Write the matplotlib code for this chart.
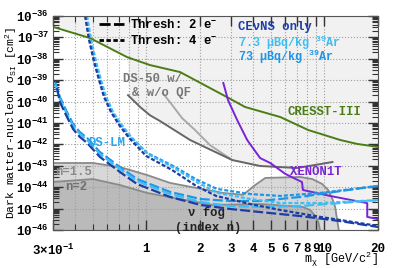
import matplotlib

matplotlib.use("Agg")
import matplotlib.pyplot as plt
from matplotlib.lines import Line2D
from matplotlib.ticker import FixedLocator, FixedFormatter, LogLocator, NullFormatter
import numpy as np

# ---- data: mass in GeV/c^2, cross section in cm^2 ----
cresst_m = [0.30, 0.484, 0.781, 1.05, 1.55, 2.85, 3.59, 5.66, 8.12, 12.3, 15.3, 20.0]
cresst_s = [3.1e-37, 9.3e-38, 1.2e-38, 5.1e-39, 2.4e-39, 1.6e-40, 5.6e-41, 1.9e-41,
            4.7e-42, 1.6e-42, 1.05e-42, 7.6e-43]

xenon_m = [2.71, 2.88, 3.24, 3.69, 4.36, 4.97, 6.03, 7.49, 7.58, 10.77, 17.4, 17.4, 20.0]
xenon_s = [7.4e-40, 1.17e-40, 1.38e-41, 1.6e-42, 2.3e-43, 1.35e-43, 4.2e-44, 1.74e-44,
           7.4e-45, 3.9e-45, 1.8e-45, 4.1e-46, 3.2e-46]

ds50_qf_m = [0.791, 0.924, 1.05, 1.197, 1.765, 3.04, 4.36, 7.03, 11.1]
ds50_qf_s = [2.0e-40, 5.6e-41, 2.3e-41, 1.23e-41, 1.6e-42, 1.86e-43, 9.8e-44, 7.9e-44, 1.5e-43]
ds50_noqf_m = [1.24, 1.40, 1.59, 1.88, 2.28, 3.04]
ds50_noqf_s = [2.5e-40, 6.9e-41, 1.7e-41, 4.7e-42, 9.3e-43, 1.86e-43]

# neutrino fog contours
fog15_m = [0.30, 0.503, 0.713, 1.012, 1.362, 1.932, 2.71, 3.50, 4.09, 4.66, 7.31, 8.55,
           9.73, 10.5, 11.1, 11.5, 11.8, 12.1]
fog15_s = [1.35e-43, 1.35e-43, 8.7e-44, 3.7e-44, 1.58e-44, 9.1e-45, 5.4e-45, 4.4e-45,
           1.26e-44, 2.7e-44, 3.0e-44, 2.4e-44, 1.41e-44, 7.4e-45, 2.8e-45, 1.19e-45,
           2.9e-46, 8.1e-47]
fog2_m = [0.30, 0.503, 0.713, 1.012, 1.417, 2.37, 4.36, 7.58, 8.33, 8.89, 9.25, 9.49]
fog2_s = [1.76e-44, 2.4e-44, 1.26e-44, 5.4e-45, 3.2e-45, 1.48e-45, 1.64e-45, 1.19e-45,
          8.6e-46, 4.5e-46, 2.4e-46, 8.1e-47]

# DS-LM projections, threshold 2 e-
m_2e = [0.308, 0.328, 0.355, 0.389, 0.424, 0.466, 0.550, 0.713, 0.889, 1.362, 2.02, 2.96,
        4.36, 7.31, 12.3, 20.0]
s_2e_73 = [8.3e-40, 1.64e-40, 4.0e-41, 8.9e-42, 3.8e-42, 2.0e-42, 4.4e-43, 8.7e-44, 2.4e-44,
           6.0e-45, 2.8e-45, 2.26e-45, 2.26e-45, 3.5e-45, 6.6e-45, 1.15e-44]
s_2e_7p3 = [6.6e-40, 1.32e-40, 3.25e-41, 7.3e-42, 3.1e-42, 1.62e-42, 3.55e-43, 7.1e-44,
            1.95e-44, 4.8e-45, 2.04e-45, 1.32e-45, 1.19e-45, 1.32e-45, 1.82e-45, 2.5e-45]
m_2e_cevns = [0.316, 0.328, 0.355, 0.389, 0.424, 0.466, 0.550, 0.713, 0.889, 1.362, 2.02,
              2.96, 4.36, 7.31, 12.3, 20.0]
s_2e_cevns = [4.3e-40, 9.5e-41, 2.35e-41, 5.2e-42, 2.24e-42, 1.17e-42, 2.6e-43, 5.1e-44,
              1.41e-44, 3.5e-45, 1.48e-45, 9.6e-46, 6.9e-46, 4.5e-46, 2.6e-46, 1.38e-46]

# DS-LM projections, threshold 4 e-
m_4e_73 = [0.460, 0.484, 0.517, 0.550, 0.588, 0.644, 0.713, 0.811, 1.012, 1.417, 1.932,
           2.50, 3.83, 5.66, 9.49, 20.0]
s_4e_73 = [1.0e-36, 7.6e-38, 7.1e-39, 1.02e-39, 1.64e-40, 3.25e-41, 8.9e-42, 2.24e-42,
           4.0e-43, 9.8e-44, 2.2e-44, 8.3e-45, 4.8e-45, 3.9e-45, 5.4e-45, 1.15e-44]
m_4e_7p3 = [0.466, 0.491, 0.524, 0.558, 0.596, 0.652, 0.723, 0.823, 1.025, 1.435, 1.958,
            2.535, 3.83, 5.66, 9.49, 20.0]
s_4e_7p3 = [1.0e-36, 7.6e-38, 7.1e-39, 1.02e-39, 1.64e-40, 3.25e-41, 8.9e-42, 2.24e-42,
            3.55e-43, 7.9e-44, 1.58e-44, 5.4e-45, 2.8e-45, 1.82e-45, 1.82e-45, 2.5e-45]
m_4e_cevns = [0.454, 0.478, 0.510, 0.544, 0.580, 0.635, 0.705, 0.802, 0.999, 1.40, 1.908,
              2.47, 3.83, 5.66, 9.49, 20.0]
s_4e_cevns = [1.0e-36, 7.6e-38, 7.1e-39, 1.02e-39, 1.64e-40, 3.25e-41, 8.1e-42, 2.0e-42,
              2.9e-43, 6.3e-44, 1.15e-44, 3.9e-45, 1.64e-45, 8.6e-46, 4.1e-46, 1.55e-46]

x_major = [0.3, 1, 2, 3, 4, 5, 6, 7, 8, 9, 10, 20]
x_major_labels = [r"$3{\times}10^{-1}$", "1", "2", "3", "4", "5", "6", "7", "8", "9", "10", "20"]
x_minor = [0.4, 0.5, 0.6, 0.7, 0.8, 0.9]
y_exps = list(range(-46, -35))

# ---- style ----
plt.rcParams["font.family"] = "Liberation Mono"
plt.rcParams["font.weight"] = "bold"
plt.rcParams["mathtext.fontset"] = "custom"
for k in ("rm", "it", "bf", "sf"):
    plt.rcParams[f"mathtext.{k}"] = "Liberation Mono:bold"
plt.rcParams["mathtext.default"] = "regular"

c_cevns = "#1b3da8"
c_7p3 = "#3dbdf5"
c_73 = "#1f95e6"
long_dash = (4.5, 1.4)
short_dash = (1.8, 0.9)

fig = plt.figure(figsize=(4.07, 2.68), dpi=100)
ax = fig.add_axes([53 / 407, 1 - 230 / 268, 325 / 407, 214 / 268])
ax.set_xscale("log")
ax.set_yscale("log")
ax.set_xlim(0.3, 20)
ax.set_ylim(1e-46, 1e-36)

# excluded region: above the lowest existing limit
grid_m = np.logspace(np.log10(0.3), np.log10(20), 800)


def _interp(m, s):
    lm, ls = np.log10(m), np.log10(s)
    out = np.interp(np.log10(grid_m), lm, ls)
    out[(grid_m < m[0]) | (grid_m > m[-1])] = np.inf
    return out


env = np.min([_interp(cresst_m, cresst_s), _interp(xenon_m, xenon_s),
              _interp(ds50_qf_m, ds50_qf_s), _interp(ds50_noqf_m, ds50_noqf_s)], axis=0)
ax.fill_between(grid_m, 10 ** env, 1e-36, color="#f1f1f1", lw=0, zorder=0.5)

# neutrino fog
ax.fill_between(fog15_m, fog15_s, 1e-47, color="#d8d8d8", lw=0, zorder=0.6)
ax.fill_between(fog2_m, fog2_s, 1e-47, color="#bababa", lw=0, zorder=0.7)
ax.plot(fog15_m, fog15_s, color="#8a8a8a", lw=1.3, zorder=1.8)
ax.plot(fog2_m, fog2_s, color="#8a8a8a", lw=1.3, zorder=1.8)

# existing limits
ax.plot(ds50_noqf_m, ds50_noqf_s, color="#a9a9a9", lw=1.4)
ax.plot(ds50_qf_m, ds50_qf_s, color="#666666", lw=1.4)
ax.plot(cresst_m, cresst_s, color="#4b7d15", lw=1.4)
ax.plot(xenon_m, xenon_s, color="#7a22d6", lw=1.4)

# DS-LM projections
for m, s, c in [(m_2e, s_2e_73, c_73), (m_2e, s_2e_7p3, c_7p3), (m_2e_cevns, s_2e_cevns, c_cevns)]:
    ax.plot(m, s, color=c, lw=1.6, dashes=long_dash)
for m, s, c in [(m_4e_73, s_4e_73, c_73), (m_4e_7p3, s_4e_7p3, c_7p3), (m_4e_cevns, s_4e_cevns, c_cevns)]:
    ax.plot(m, s, color=c, lw=1.6, dashes=short_dash)

# axes, ticks, grid
ax.xaxis.set_major_locator(FixedLocator(x_major))
ax.xaxis.set_major_formatter(FixedFormatter(x_major_labels))
ax.xaxis.set_minor_locator(FixedLocator(x_minor))
ax.xaxis.set_minor_formatter(NullFormatter())
ax.yaxis.set_major_locator(FixedLocator([10.0 ** e for e in y_exps]))
ax.yaxis.set_major_formatter(FixedFormatter([rf"$10^{{{e}}}$" for e in y_exps]))
ax.yaxis.set_minor_locator(LogLocator(base=10, subs=np.arange(2, 10), numticks=20))
ax.yaxis.set_minor_formatter(NullFormatter())
ax.tick_params(which="both", direction="in", top=True, right=True, color="#333333", labelsize=9)
ax.tick_params(which="major", length=7, width=1)
ax.tick_params(which="minor", length=4, width=0.8)
ax.tick_params(axis="x", which="major", pad=9)
ax.tick_params(axis="y", which="major", pad=3)
ax.grid(True, which="major", ls=":", color="#a0a0a0", lw=0.8)
ax.grid(True, which="minor", axis="x", ls=":", color="#a0a0a0", lw=0.8)
for sp in ax.spines.values():
    sp.set_color("#555555")

ax.set_ylabel(r"Dark matter-nucleon $\sigma_{SI}$ [cm$^2$]", fontsize=8.2)
ax.yaxis.set_label_coords(-0.106, 0.5)
ax.set_xlabel(r"m$_{\chi}$ [GeV/c$^2$]", fontsize=8.5)
ax.xaxis.set_label_coords(1.0, -0.137)
ax.xaxis.label.set_horizontalalignment("right")
ax.xaxis.label.set_verticalalignment("center")

# legends
handles = [Line2D([], [], color="k", lw=2, dashes=(4, 1.2)),
           Line2D([], [], color="k", lw=2, dashes=(1.6, 0.9))]
ax.legend(handles, [r"Thresh: 2 e$^{-}$", r"Thresh: 4 e$^{-}$"], loc="upper left",
          bbox_to_anchor=(0.135, 1.0), frameon=False, fontsize=8.8, handlelength=2.0,
          handletextpad=0.5, labelspacing=0.25, borderpad=0.2, borderaxespad=0)
ax.text(0.569, 0.949, "CEνNS only", color=c_cevns, fontsize=8.8, va="center", transform=ax.transAxes)
ax.text(0.569, 0.874, r"7.3 µBq/kg $^{39}$Ar", color=c_7p3, fontsize=8.5, va="center", transform=ax.transAxes)
ax.text(0.569, 0.808, r"73 µBq/kg $^{39}$Ar", color=c_73, fontsize=8.5, va="center", transform=ax.transAxes)

# curve labels
ax.text(0.215, 0.706, "DS-50 w/", color="#777777", fontsize=8.8, va="center", transform=ax.transAxes)
ax.text(0.243, 0.640, "& w/o QF", color="#777777", fontsize=8.8, va="center", transform=ax.transAxes)
ax.text(0.72, 0.551, "CRESST-III", color="#4b7d15", fontsize=8.8, va="center", transform=ax.transAxes)
ax.text(0.729, 0.271, "XENON1T", color="#7a22d6", fontsize=8.8, va="center", transform=ax.transAxes)
ax.text(0.108, 0.407, "DS-LM", color="#2aa4ec", fontsize=8.8, va="center", transform=ax.transAxes)
ax.text(0.006, 0.271, "n=1.5", color="#8a8a8a", fontsize=8.8, va="center", transform=ax.transAxes)
ax.text(0.037, 0.201, "n=2", color="#707070", fontsize=8.8, va="center", transform=ax.transAxes)
ax.text(0.471, 0.079, "ν fog", color="#222222", fontsize=8.8, ha="center", va="center", transform=ax.transAxes)
ax.text(0.477, 0.009, "(index n)", color="#222222", fontsize=8.8, ha="center", va="center", transform=ax.transAxes)

fig.savefig("out.png", dpi=100)
